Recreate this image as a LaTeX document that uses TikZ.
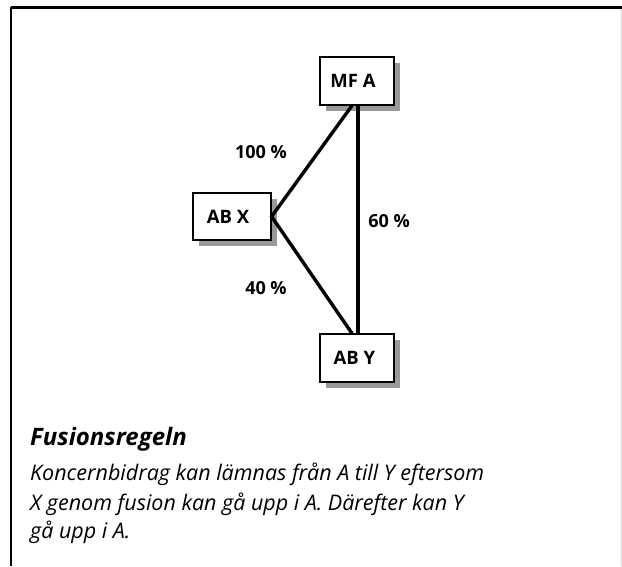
\documentclass[tikz,border=0pt]{standalone}
\usepackage{fontspec}
\setmainfont{Open Sans}
\begin{document}
\begin{tikzpicture}[x=1pt,y=1pt,
  box/.style={draw=black, line width=1.2pt, fill=white, minimum width=74pt, minimum height=48pt, inner sep=0pt, font=\fontsize{18.5}{20}\selectfont\bfseries},
  shadowbox/.style={fill=black!40, minimum width=74pt, minimum height=48pt, inner sep=0pt, draw=none},
  conn/.style={line width=3.4pt},
  pct/.style={font=\fontsize{18}{20}\selectfont\bfseries, inner sep=0pt},
  captext/.style={anchor=base west, inner sep=0pt, font=\fontsize{21.5}{24}\selectfont\itshape},
  headtext/.style={anchor=base west, inner sep=0pt, font=\fontsize{24}{26}\selectfont\bfseries\itshape}]
\useasboundingbox (0,0) rectangle (622,566);
% frame
\draw[line width=3pt] (11,558) -- (622,558);
\draw[line width=1.6pt] (11,559) -- (11,0);
\draw[black!15, line width=1pt] (621,557) -- (621,0);
% shadows
\node[shadowbox] at (363,479) {};
\node[shadowbox, minimum width=78pt, minimum height=47pt] at (238,343.5) {};
\node[shadowbox, minimum height=48pt] at (363,202) {};
% boxes
\node[box] (mfa) at (357,485) {\hspace*{-8pt}MF A};
\node[box, minimum width=78pt, minimum height=47pt] (abx) at (232,349.5) {\hspace*{-8pt}AB X};
\node[box] (aby) at (357,208) {\hspace*{-5pt}AB Y};
% connectors
\draw[conn] ([xshift=-5pt]mfa.south) -- (abx.east) -- ([xshift=-5pt]aby.north);
\draw[conn] ([xshift=1pt]mfa.south) -- ([xshift=1pt]aby.north);
% labels
\node[pct] (l100) at (261,414) {100 \%};
\node[pct] (l60) at (389,345) {60 \%};
\node[pct] (l40) at (266,278) {40 \%};
% caption
\node[headtext] (h) at (30,121) {Fusionsregeln};
\node[captext] (c1) at (30,86) {Koncernbidrag kan lämnas från A till Y eftersom};
\node[captext] (c2) at (30,56) {X genom fusion kan gå upp i A. Därefter kan Y};
\node[captext] (c3) at (30,28) {gå upp i A.};
\end{tikzpicture}
\end{document}
